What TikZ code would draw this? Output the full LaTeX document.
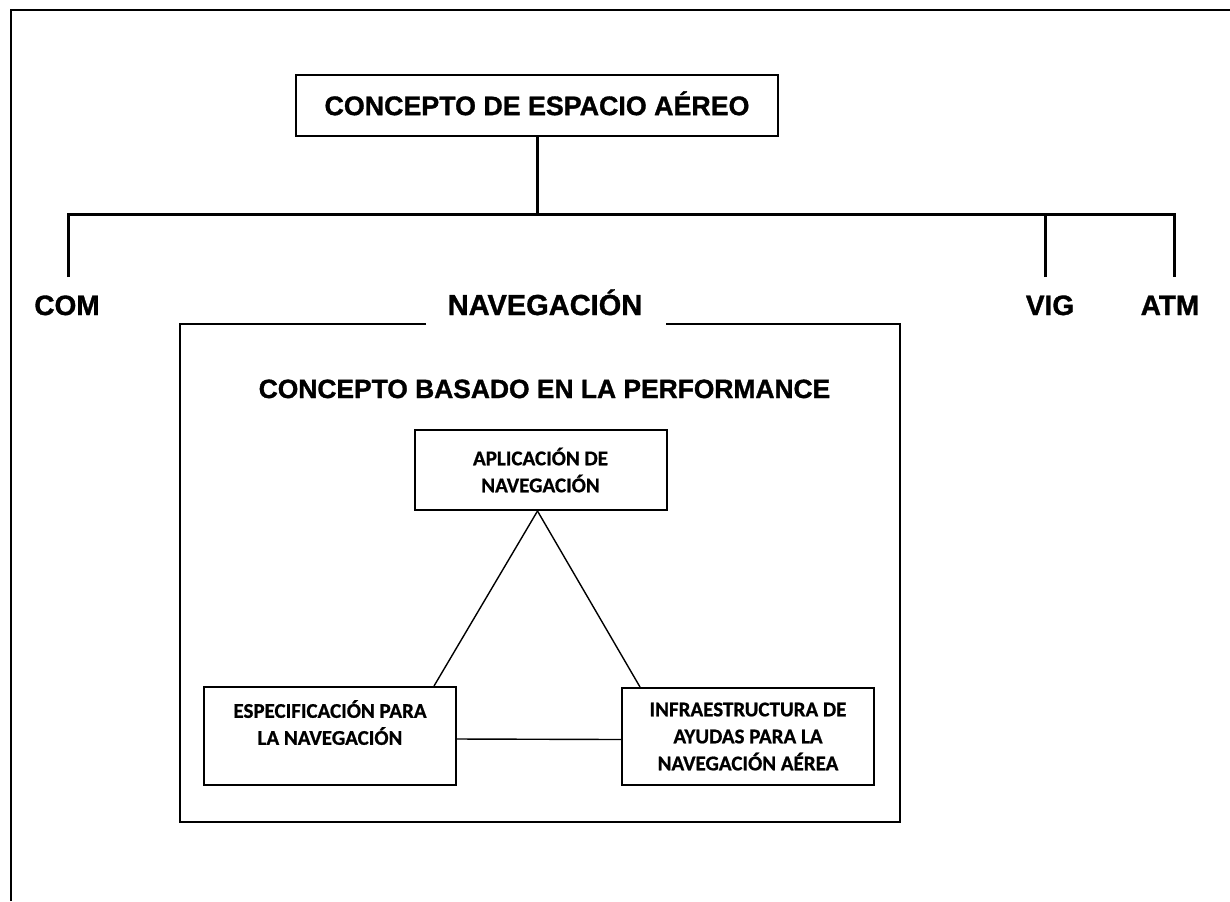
\documentclass[tikz,border=0pt]{standalone}
\usepackage{fontspec}
\setmainfont{Liberation Sans}[BoldFeatures={FakeBold=1.2}]
\newfontfamily\carlito{Carlito}[BoldFeatures={FakeBold=0.8}]
\usepackage{tikz}

\begin{document}
\begin{tikzpicture}[x=0.5pt, y=-0.5pt,
    tree/.style={line width=1.5pt},
    head/.style={font=\fontsize{14}{17}\selectfont\bfseries, anchor=base, inner sep=0pt},
    box/.style={draw, line width=1pt, minimum width=126pt, inner sep=0pt, align=center,
        font=\carlito\fontsize{10.5}{13.5}\selectfont\bfseries},
    link/.style={line width=0.7pt}]
    \useasboundingbox (0,0) rectangle (1230,901);
    \draw[line width=1.2pt] (11,901) -- (11,10) -- (1230,10);

    \node[draw, line width=1pt, minimum width=241pt, minimum height=30.5pt, inner sep=0pt,
        text height=9.6pt, text depth=0pt, font=\fontsize{13.4}{16}\selectfont\bfseries]
        (esp) at (537,105.5) {CONCEPTO DE ESPACIO AÉREO};

    \node[head] (com) at (67,315) {COM};
    \node[head, font=\fontsize{14.5}{17}\selectfont\bfseries] (nav) at (545,315) {NAVEGACIÓN};
    \node[head] (vig) at (1050,315) {VIG};
    \node[head] (atm) at (1170,315) {ATM};

    \coordinate (hub) at (537,214);
    \coordinate (dcom) at (68,277);
    \coordinate (dvig) at (1045,277);
    \coordinate (datm) at (1174,277);

    \draw[tree] (esp) -- (hub);
    \draw[tree] (dcom) |- (hub) -| (datm);
    \draw[tree] (dvig) -- (dvig |- hub);

    \draw[line width=1pt] (426,324) -| (180,822) -| (900,324) -- (666,324);

    \node[anchor=base, inner sep=0pt, font=\fontsize{13.2}{16}\selectfont\bfseries]
        (perf) at (544.5,398) {CONCEPTO BASADO EN LA PERFORMANCE};

    \node[box, minimum height=40pt] (aplic) at (540.5,470) {APLICACIÓN DE\\NAVEGACIÓN};
    \node[box, minimum height=49pt] (espec) at (330,736) {ESPECIFICACIÓN PARA\\LA NAVEGACIÓN\\\mbox{}};
    \node[box, minimum height=48.5pt] (infra) at (748,736.5) {INFRAESTRUCTURA DE\\AYUDAS PARA LA\\NAVEGACIÓN AÉREA};

    \draw[link] ([xshift=-1.5pt]aplic.south) -- ([xshift=-11.5pt]espec.north east);
    \draw[link] ([xshift=-1.5pt]aplic.south) -- ([xshift=9.5pt]infra.north west);
    \draw[link] ([yshift=-1.5pt]espec.east) -- ([yshift=-1.5pt]infra.west);
\end{tikzpicture}
\end{document}
